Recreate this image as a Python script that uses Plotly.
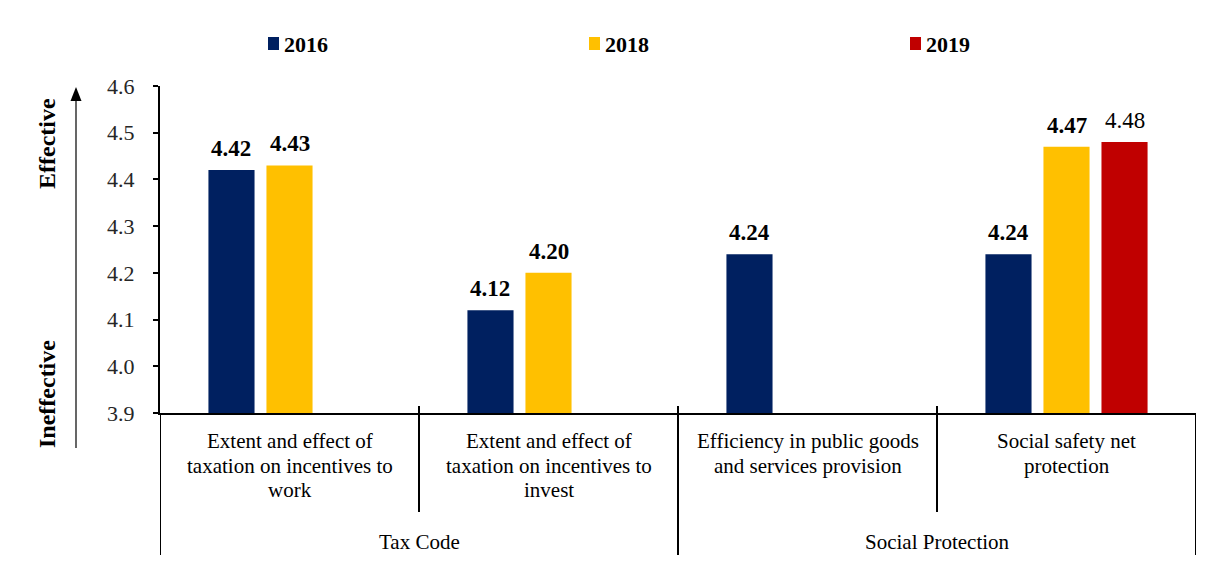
import plotly.graph_objects as go

# ---- data ----
categories = [
    "Extent and effect of<br>taxation on incentives to<br>work",
    "Extent and effect of<br>taxation on incentives to<br>invest",
    "Efficiency in public goods<br>and services provision",
    "Social safety net<br>protection",
]
groups = ["Tax Code", "Social Protection"]
years = ["2016", "2018", "2019"]
values_2016 = [4.42, 4.12, 4.24, 4.24]
values_2018 = [4.43, 4.20, None, 4.47]
values_2019 = [None, None, None, 4.48]
colors = ["#002060", "#FFC000", "#C00000"]
bold_labels = [True, True, False]
y_ticks = [3.9, 4.0, 4.1, 4.2, 4.3, 4.4, 4.5, 4.6]

series = [values_2016, values_2018, values_2019]

# ---- geometry (figure pixels) ----
W, H = 1205, 563
L, R, T, B = 160, 9, 86, 150
PW, PH = W - L - R, H - T - B
SERIF = "Liberation Serif, Times New Roman, serif"


def px_x(px):
    return (px - L) / PW


def px_y(py):
    return (H - B - py) / PH


slot = 0.224
bar_w = 0.178
offsets = [-slot, 0.0, slot]

fig = go.Figure()
annotations = []
for vals, name, col, off, bold in zip(series, years, colors, offsets, bold_labels):
    xs = [i + off for i, v in enumerate(vals) if v is not None]
    ys = [v for v in vals if v is not None]
    fig.add_trace(go.Bar(
        x=xs, y=ys, width=bar_w, name=name,
        marker=dict(color=col, line=dict(width=0)),
        showlegend=False,
    ))
    for x, y in zip(xs, ys):
        txt = f"{y:.2f}"
        annotations.append(dict(
            x=x, y=y, xref="x", yref="y", text=f"<b>{txt}</b>" if bold else txt,
            showarrow=False, yanchor="bottom", yshift=7,
            font=dict(family=SERIF, size=23, color="#000000"),
        ))

# category labels under the axis, one line at a time
line_y = [441, 465.5, 490]
for i, cat in enumerate(categories):
    for k, part in enumerate(cat.split("<br>")):
        annotations.append(dict(
            x=i, y=px_y(line_y[k]), xref="x", yref="paper", text=part,
            showarrow=False, yanchor="middle", align="center",
            font=dict(family=SERIF, size=21, color="#000000"),
        ))
for g, name in enumerate(groups):
    annotations.append(dict(
        x=0.5 + 2 * g, y=px_y(542), xref="x", yref="paper", text=name,
        showarrow=False, yanchor="middle",
        font=dict(family=SERIF, size=21, color="#000000"),
    ))

# legend: coloured squares followed by bold year labels
legend_x = [268, 589, 910]
shapes = []
for name, col, lx in zip(years, colors, legend_x):
    shapes.append(dict(
        type="rect", xref="paper", yref="paper",
        x0=px_x(lx), x1=px_x(lx + 11), y0=px_y(50), y1=px_y(37),
        fillcolor=col, line=dict(width=0),
    ))
    annotations.append(dict(
        x=px_x(lx + 14), y=px_y(44), xref="paper", yref="paper",
        text=f"<b>{name}</b>", showarrow=False, xanchor="left", yanchor="middle",
        font=dict(family=SERIF, size=22, color="#000000"),
    ))

# category separators below the axis
line = dict(color="#000000", width=2)
for xv, bottom in [(-0.5, 555), (0.5, 512), (1.5, 555), (2.5, 512), (3.5, 555)]:
    top = 413 if xv in (-0.5, 3.5) else 406
    shapes.append(dict(type="line", xref="x", yref="paper", x0=xv, x1=xv,
                       y0=px_y(top), y1=px_y(bottom), line=line))

# side labels with an upward arrow between them
annotations.append(dict(
    x=px_x(47), y=px_y(144), xref="paper", yref="paper", text="<b>Effective</b>",
    textangle=-90, showarrow=False, xanchor="center", yanchor="middle",
    font=dict(family=SERIF, size=24, color="#000000"),
))
annotations.append(dict(
    x=px_x(47), y=px_y(394), xref="paper", yref="paper", text="<b>Ineffective</b>",
    textangle=-90, showarrow=False, xanchor="center", yanchor="middle",
    font=dict(family=SERIF, size=24, color="#000000"),
))
arrow_x, arrow_top, arrow_bot = 76, 87, 448
shapes.append(dict(
    type="line", xref="paper", yref="paper",
    x0=px_x(arrow_x), x1=px_x(arrow_x), y0=px_y(arrow_bot), y1=px_y(arrow_top + 10),
    line=dict(color="#000000", width=1.2),
))
shapes.append(dict(
    type="path", xref="paper", yref="paper",
    path=(f"M {px_x(arrow_x)} {px_y(arrow_top)} "
          f"L {px_x(arrow_x - 5.5)} {px_y(arrow_top + 14)} "
          f"L {px_x(arrow_x + 5.5)} {px_y(arrow_top + 14)} Z"),
    fillcolor="#000000", line=dict(width=0),
))

fig.update_layout(
    width=W, height=H,
    margin=dict(l=L, r=R, t=T, b=B),
    paper_bgcolor="#ffffff", plot_bgcolor="#ffffff",
    showlegend=False,
    xaxis=dict(
        range=[-0.5, 3.5], showticklabels=False, showgrid=False, zeroline=False,
        showline=True, linecolor="#000000", linewidth=2, ticks="", fixedrange=True,
    ),
    yaxis=dict(
        range=[3.9, 4.6], tickvals=y_ticks, ticktext=[f"{v:.1f}" for v in y_ticks],
        showgrid=False, zeroline=False, showline=True, linecolor="#000000",
        linewidth=2, ticks="outside", ticklen=5, tickwidth=2, tickcolor="#000000",
        ticklabelstandoff=14,
        tickfont=dict(family=SERIF, size=22, color="#262626"),
    ),
    annotations=annotations,
    shapes=shapes,
)

fig.write_html("out.html")
